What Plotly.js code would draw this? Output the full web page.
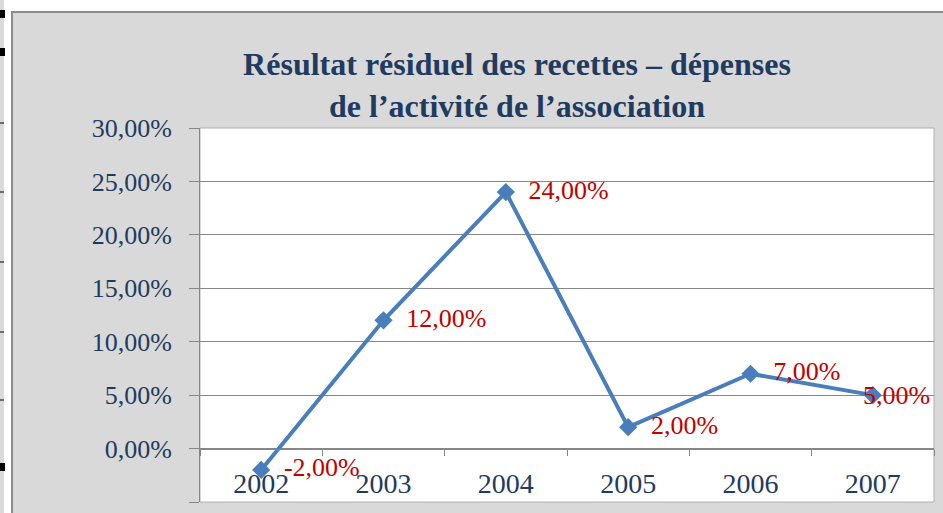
<!DOCTYPE html>
<html>
<head>
<meta charset="utf-8">
<script src="https://cdn.plot.ly/plotly-3.0.1.min.js"></script>
<style>html,body{margin:0;padding:0;background:#fff;}#chart{width:943px;height:513px;}</style>
</head>
<body>
<div id="chart"></div>
<script>
const years = ["2002", "2003", "2004", "2005", "2006", "2007"];
const resultat = [-0.02, 0.12, 0.24, 0.02, 0.07, 0.05];
const yTicks = [-0.05, 0, 0.05, 0.10, 0.15, 0.20, 0.25, 0.30];
const titleLines = ["Résultat résiduel des recettes – dépenses", "de l’activité de l’association"];

const navy = "#1f3b60";
const red = "#c00000";
const W = 943, H = 513;
const L = 200, R = 934, T = 128, B = 502;
const px = v => (v - L) / (R - L);
const py = v => (B - v) / (B - T);
const fmtPct = v => (v * 100).toFixed(2).replace(".", ",") + "%";
const last = years.length - 1;

// Labels sit to the right of each point; the last one is pulled back over its marker (annotation), as in the reference.
const labelTemplates = years.map((_, i) => i === last ? "" : "\u00a0\u00a0%{y:.2%}");

const trace = {
  x: years, y: resultat,
  type: "scatter", mode: "lines+markers+text",
  line: {color: "#4a7ebb", width: 4},
  marker: {symbol: "diamond", size: 14, color: "#4a7ebb"},
  texttemplate: labelTemplates,
  textposition: "middle right",
  textfont: {family: "Liberation Serif, serif", size: 26, color: red},
  cliponaxis: false,
  hoverinfo: "none"
};

const shapes = [
  {type: "rect", xref: "paper", yref: "paper", x0: px(0), x1: px(4), y0: py(0), y1: py(513), fillcolor: "#d9d9d9", line: {width: 0}, layer: "below"},
  {type: "rect", xref: "paper", yref: "paper", x0: px(12), x1: px(950), y0: py(12), y1: py(520), fillcolor: "#d9d9d9", line: {color: "#8c8c8c", width: 2}, layer: "below"},
  {type: "rect", xref: "paper", yref: "paper", x0: 0, x1: 1, y0: 0, y1: 1, fillcolor: "#ffffff", line: {color: "#b0b0b0", width: 1}, layer: "below"}
];
[[10, 18], [48, 56], [463, 471]].forEach(([a, b]) => shapes.push({type: "rect", xref: "paper", yref: "paper", x0: px(0), x1: px(5), y0: py(b), y1: py(a), fillcolor: "#000", line: {width: 0}, layer: "below"}));
[123, 192, 262, 332, 400].forEach(v => shapes.push({type: "line", xref: "paper", yref: "paper", x0: px(0), x1: px(4), y0: py(v), y1: py(v), line: {color: "#000", width: 1}, layer: "below"}));

const layout = {
  width: W, height: H,
  margin: {l: L, r: W - R, t: T, b: H - B, pad: 0},
  paper_bgcolor: "#ffffff",
  plot_bgcolor: "rgba(0,0,0,0)",
  separators: ", ",
  showlegend: false,
  title: {
    text: titleLines.join("<br>"),
    font: {family: "Liberation Serif, serif", size: 32, color: navy, weight: "bold"},
    x: px(517), xref: "paper", xanchor: "center",
    y: 1 - 75 / H, yref: "container", yanchor: "top"
  },
  xaxis: {
    type: "category", range: [-0.5, 5.5], fixedrange: true,
    anchor: "free", position: 5 / 35,
    showline: true, linecolor: "#878787", linewidth: 1,
    ticks: "outside", tickson: "boundaries", ticklen: 6, tickcolor: "#878787",
    showgrid: false,
    tickfont: {family: "Liberation Serif, serif", size: 28, color: navy},
    ticklabelstandoff: 10
  },
  yaxis: {
    range: [-0.05, 0.30], fixedrange: true,
    tickvals: yTicks, tickformat: ".2%",
    showline: true, linecolor: "#878787", linewidth: 1,
    ticks: "outside", ticklen: 10, tickcolor: "#878787",
    showgrid: true, gridcolor: "#878787", gridwidth: 1,
    zeroline: false,
    tickfont: {family: "Liberation Serif, serif", size: 26, color: navy},
    ticklabelstandoff: 12
  },
  annotations: [{
    x: last, y: resultat[last], xref: "x", yref: "y",
    text: fmtPct(resultat[last]), showarrow: false,
    xanchor: "left", yanchor: "middle", xshift: -12,
    font: {family: "Liberation Serif, serif", size: 26, color: red}
  }],
  shapes: shapes
};

Plotly.newPlot("chart", [trace], layout, {staticPlot: true, displayModeBar: false});
</script>
</body>
</html>
